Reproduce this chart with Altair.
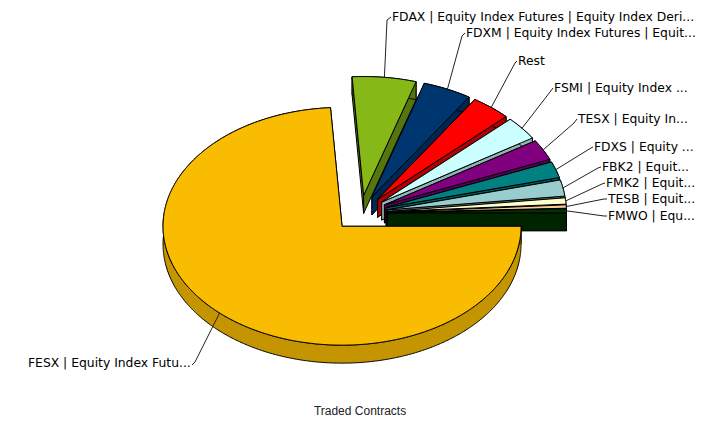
import numpy as np
import pandas as pd
import altair as alt

names = ["FESX", "FDAX", "FDXM", "Rest", "FSMI", "TESX", "FDXS", "FBK2", "FMK2", "TESB", "FMWO"]
labels = [
    "FESX | Equity Index Futu...",
    "FDAX | Equity Index Futures | Equity Index Deri...",
    "FDXM | Equity Index Futures | Equit...",
    "Rest",
    "FSMI | Equity Index ...",
    "TESX | Equity In...",
    "FDXS | Equity ...",
    "FBK2 | Equit...",
    "FMK2 | Equit...",
    "TESB | Equit...",
    "FMWO | Equ...",
]
values = [73.9, 5.75, 4.4, 3.6, 3.2, 2.8, 2.2, 2.2, 0.85, 0.45, 0.55]
top_colors = ["#F9BC00", "#86B817", "#00366F", "#FF0000", "#CCFFFF", "#800080",
              "#008080", "#99CCCC", "#FFFFCC", "#FFCC99", "#003300"]
wall_colors = ["#C49500", "#55750F", "#002750", "#B00000", "#8FB3B3", "#5A005A",
               "#005A5A", "#6B8F8F", "#B3B38F", "#B38F6B", "#002400"]
# label anchors (left edge of text, vertical centre)
label_x = [28, 392, 466, 518, 554, 578, 594, 602, 606, 608, 608]
label_y = [363, 17, 33, 61, 88, 119, 147, 167, 183, 199, 216]
# where each leader line bends, then ends next to its label
elbow_x = [195, 387, 462, 515, 550, 574, 591, 598, 602, 604, 604]
elbow_y = [362, 20, 36, 63, 92, 123, 148, 168, 184, 199, 216]
end_x = [192, 391, 465, 517, 553, 577, 593, 601, 605, 607, 607]
end_y = [365, 17, 33, 61, 88, 119, 147, 167, 183, 199, 216]

CX, CY, EXPLODE, R, K, DEPTH = 360.5, 213.2, 27.0, 179.0, 0.664, 18.0
W, H = 704, 411

x_enc = alt.X("x:Q", scale=alt.Scale(domain=[8, 8 + W]), axis=None)
y_enc = alt.Y("y:Q", scale=alt.Scale(domain=[8 + H, 8]), axis=None)


def polygon(points, fill, stroke="black", sw=1.0):
    pts = list(points) + [points[0]]
    df = pd.DataFrame({"x": [p[0] for p in pts], "y": [p[1] for p in pts], "i": range(len(pts))})
    return alt.Chart(df).mark_line(fill=fill, stroke=stroke, strokeWidth=sw, strokeJoin="round",
                                   clip=False).encode(x=x_enc, y=y_enc, order=alt.Order("i:Q"))


total = sum(values)
layers = []
slices = {}
start = 0.0
for name, v, top, wall in zip(names, values, top_colors, wall_colors):
    sweep = v / total * 360.0
    a1, a2 = start, start - sweep  # clockwise, degrees
    m = np.radians((a1 + a2) / 2)
    ax, ay = CX + EXPLODE * np.cos(m), CY - EXPLODE * K * np.sin(m)
    th = np.radians(np.linspace(a1, a2, max(12, int(sweep * 2))))
    arc = [(ax + R * np.cos(t), ay - R * K * np.sin(t)) for t in th]
    slices[name] = dict(apex=(ax, ay), arc=arc, mid=(ax + R * np.cos(m), ay - R * K * np.sin(m)), wall=wall, top=top)
    start = a2

draw_order = names[1:] + names[:1]
for name in draw_order:
    s = slices[name]
    ax, ay = s["apex"]
    arc = s["arc"]
    down = lambda p: (p[0], p[1] + DEPTH)
    # radial walls
    for edge in (arc[0], arc[-1]):
        layers.append(polygon([(ax, ay), edge, down(edge), down((ax, ay))], s["wall"]))
    # outer wall
    layers.append(polygon(arc + [down(p) for p in reversed(arc)], s["wall"]))
    # top face
    layers.append(polygon([(ax, ay)] + arc, s["top"]))

# leader lines
for i, name in enumerate(names):
    mid = slices[name]["mid"]
    pts = [mid, (elbow_x[i], elbow_y[i]), (end_x[i], end_y[i])]
    df = pd.DataFrame({"x": [p[0] for p in pts], "y": [p[1] for p in pts], "i": range(3)})
    layers.append(alt.Chart(df).mark_line(color="#222222", strokeWidth=1).encode(
        x=x_enc, y=y_enc, order=alt.Order("i:Q")))

lab_df = pd.DataFrame({"x": label_x, "y": label_y, "t": labels})
layers.append(alt.Chart(lab_df).mark_text(align="left", baseline="middle", font="DejaVu Sans",
                                          fontSize=12.35, color="#000000").encode(x=x_enc, y=y_enc, text="t:N"))

title_df = pd.DataFrame({"x": [360], "y": [415], "t": ["Traded Contracts"]})
layers.append(alt.Chart(title_df).mark_text(align="center", baseline="alphabetic", font="Liberation Sans",
                                            fontSize=12, color="#222222").encode(x=x_enc, y=y_enc, text="t:N"))

chart = alt.layer(*layers).properties(
    width=W, height=H, padding=0, autosize=alt.AutoSizeParams(type="none")
).configure_view(stroke=None)

chart.save("out.html", embed_options={"renderer": "svg", "actions": False})
